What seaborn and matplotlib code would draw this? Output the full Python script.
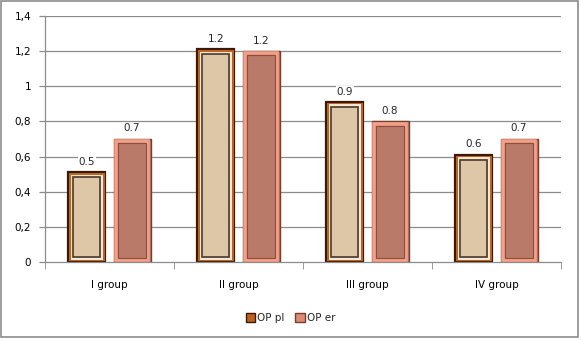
import matplotlib.pyplot as plt
import matplotlib.patches as mpatches
import seaborn as sns
import pandas as pd

groups = ['I group', 'II group', 'III group', 'IV group']
op_pl = [0.51, 1.21, 0.91, 0.61]
op_er = [0.70, 1.20, 0.80, 0.70]
series = ['OP pl', 'OP er']
y_ticks = [0, 0.2, 0.4, 0.6, 0.8, 1.0, 1.2, 1.4]
y_labels = ['0', '0,2', '0,4', '0,6', '0,8', '1', '1,2', '1,4']

df = pd.DataFrame({
    'group': groups * 2,
    'value': op_pl + op_er,
    'series': [series[0]] * 4 + [series[1]] * 4,
})

sns.set_style('white')
plt.rcParams['font.family'] = ['DejaVu Sans']

fig = plt.figure(figsize=(5.81, 3.41), dpi=100)
ax = fig.add_axes([0.0775, 0.2317, 0.888, 0.7213])

face = {'OP pl': '#DDC7A6', 'OP er': '#B97A69'}
sns.barplot(data=df, x='group', y='value', hue='series', palette=face,
            width=0.7, gap=0.18, saturation=1, legend=False, ax=ax)

ax.set_xlim(-0.5, 3.5)
ax.set_ylim(0, 1.4)
ax.set_yticks(y_ticks)
ax.set_yticklabels(y_labels)
ax.grid(False)
ax.hlines(y_ticks[1:], -0.5, 3.5, colors='#8c8c8c', lw=0.9, zorder=0.5)
ax.set_xlabel('')
ax.set_ylabel('')
for s in ['top', 'right']:
    ax.spines[s].set_visible(False)
for s in ['left', 'bottom']:
    ax.spines[s].set_color('#8c8c8c')
    ax.spines[s].set_linewidth(0.9)
ax.tick_params(axis='both', labelsize=7.5, colors='black', length=4,
               color='#8c8c8c', width=0.9)
ax.tick_params(axis='x', length=0, pad=13)
ax.tick_params(axis='y', direction='out', left=True, pad=6)
ax.set_xticks([-0.5, 0.5, 1.5, 2.5, 3.5], minor=True)
ax.tick_params(axis='x', which='minor', length=5, color='#8c8c8c', bottom=True)

# bevel-like frames on bars
fig.canvas.draw()
to_px = ax.transData
to_data = ax.transData.inverted()
patches = list(ax.patches)
for i, p in enumerate(patches):
    name = series[0] if i < 4 else series[1]
    x0, y0 = p.get_x(), p.get_y()
    w, h = p.get_width(), p.get_height()
    (px0, py0), (px1, py1) = to_px.transform([(x0, y0), (x0 + w, y0 + h)])

    def inset(d, **kw):
        (a, b), (c, e) = to_data.transform([(px0 + d, py0 + d), (px1 - d, py1 - d)])
        ax.add_patch(mpatches.Rectangle((a, b), c - a, e - b, fill=False, **kw))

    if name == 'OP pl':
        p.set_edgecolor('#3b1a05')
        p.set_linewidth(1.6)
        inset(1.8, edgecolor='#c0621a', lw=1.4, zorder=3)
        inset(3.3, edgecolor='#f4ead8', lw=1.4, zorder=3)
        inset(5.0, edgecolor='#4a3a2e', lw=1.2, zorder=3)
    else:
        p.set_edgecolor('#7a3c2c')
        p.set_linewidth(1.0)
        inset(2.2, edgecolor='#f2a088', lw=2.6, zorder=3)
        inset(4.2, edgecolor='#8e4e3e', lw=0.8, zorder=3)

ax.set_xlim(-0.5, 3.5)
ax.set_ylim(0, 1.4)

for i, c in enumerate(ax.containers):
    ax.bar_label(c, labels=['%.1f' % v for v in (op_pl if i == 0 else op_er)],
                 padding=4, fontsize=7.5,
                 bbox=dict(facecolor='white', edgecolor='none', pad=0.5))

handles = [
    mpatches.Patch(facecolor='#c0621a', edgecolor='#3b1a05', label=series[0]),
    mpatches.Patch(facecolor='#e08a76', edgecolor='#7a3c2c', label=series[1]),
]
fig.legend(handles=handles, loc='center', bbox_to_anchor=(0.5, 0.068), ncol=2,
           frameon=False, fontsize=7.5, handlelength=0.9, handleheight=0.9,
           handletextpad=0.2, columnspacing=1.0)

fig.add_artist(mpatches.Rectangle((0.002, 0.012), 0.992, 0.984,
                                  transform=fig.transFigure, fill=False,
                                  edgecolor='#8c8c8c', lw=1.2))

fig.savefig('out.png', dpi=100)
